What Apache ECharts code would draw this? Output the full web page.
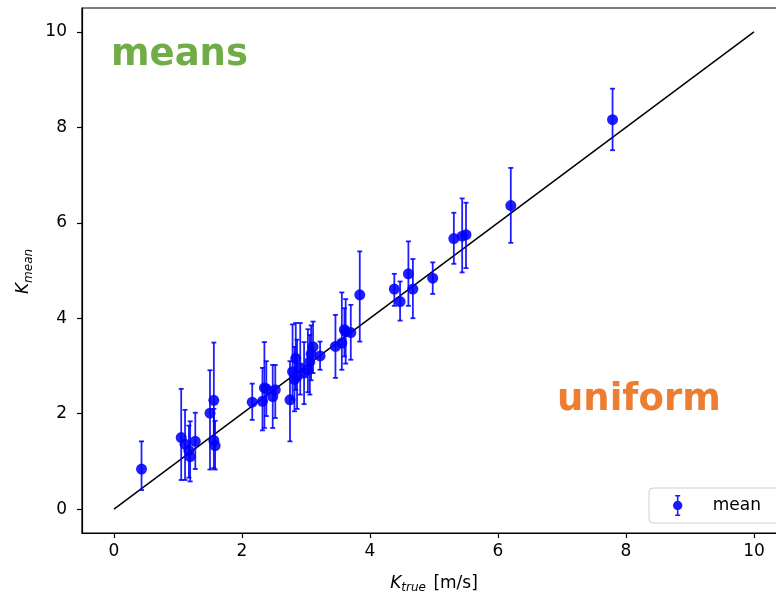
<!DOCTYPE html>
<html>
<head>
<meta charset="utf-8">
<script src="https://cdn.jsdelivr.net/npm/echarts@6/dist/echarts.min.js"></script>
<style>
  html, body { margin: 0; padding: 0; background: #fff; }
  #chart { width: 776px; height: 596px; }
</style>
</head>
<body>
<div id="chart"></div>
<script>
// True wind speed K_true [m/s] and the estimated mean with its spread
const kTrue = [0.43, 1.05, 1.11, 1.17, 1.19, 1.27, 1.50, 1.56, 1.56, 1.58,
               2.16, 2.32, 2.35, 2.38, 2.48, 2.52, 2.75, 2.79, 2.82, 2.84,
               2.86, 2.91, 2.97, 3.03, 3.06, 3.08, 3.11, 3.22, 3.46, 3.56,
               3.60, 3.62, 3.70, 3.84, 4.38, 4.47, 4.60, 4.67, 4.98, 5.31,
               5.44, 5.50, 6.20, 7.79];
const kMean = [0.84, 1.50, 1.36, 1.23, 1.10, 1.42, 2.01, 2.28, 1.44, 1.33,
               2.24, 2.26, 2.54, 2.52, 2.36, 2.50, 2.29, 2.88, 2.72, 3.16,
               2.78, 2.96, 2.85, 2.92, 3.09, 3.25, 3.40, 3.21, 3.41, 3.48,
               3.76, 3.72, 3.70, 4.49, 4.61, 4.35, 4.93, 4.61, 4.84, 5.67,
               5.72, 5.75, 6.36, 8.16];
const kLow  = [0.40, 0.61, 0.61, 0.66, 0.58, 0.84, 0.83, 1.40, 0.86, 0.83,
               1.87, 1.65, 1.70, 1.95, 1.70, 1.91, 1.42, 2.30, 2.05, 2.50,
               2.10, 2.40, 2.20, 2.45, 2.40, 2.70, 2.85, 2.92, 2.75, 2.92,
               3.20, 3.05, 3.13, 3.51, 4.26, 3.95, 4.26, 4.00, 4.51, 5.14,
               4.96, 5.05, 5.58, 7.52];
const kHigh = [1.42, 2.52, 2.08, 1.75, 1.84, 2.02, 2.91, 3.49, 2.10, 1.85,
               2.63, 2.96, 3.50, 3.10, 3.02, 3.02, 3.10, 3.87, 3.40, 3.90,
               3.55, 3.90, 3.50, 3.77, 3.65, 3.85, 3.93, 3.51, 4.07, 4.54,
               4.21, 4.40, 4.28, 5.40, 4.93, 4.77, 5.61, 5.24, 5.17, 6.21,
               6.51, 6.42, 7.15, 8.81];
// Reference line K_mean = K_true
const lineX = [0, 10];
const lineY = [0, 10];
const xTicks = [0, 2, 4, 6, 8, 10];
const yTicks = [0, 2, 4, 6, 8, 10];

const BLUE = 'rgba(0,0,255,0.88)';
const FONT = 'DejaVu Sans';
const FS = 17;

const chart = echarts.init(document.getElementById('chart'), null, { renderer: 'canvas' });

function errorBar(params, api) {
  const x = api.value(0);
  const top = api.coord([x, api.value(2)]);
  const bot = api.coord([x, api.value(1)]);
  const cap = 2.5;
  const st = { stroke: BLUE, lineWidth: 1.8 };
  return {
    type: 'group',
    children: [
      { type: 'line', shape: { x1: top[0], y1: top[1], x2: bot[0], y2: bot[1] }, style: st },
      { type: 'line', shape: { x1: top[0] - cap, y1: top[1], x2: top[0] + cap, y2: top[1] }, style: st },
      { type: 'line', shape: { x1: bot[0] - cap, y1: bot[1], x2: bot[0] + cap, y2: bot[1] }, style: st }
    ]
  };
}

// marker with a vertical error bar, used as the legend key
const legendIcon = 'path://M7.5,0 L12.5,0 L12.5,1.6 L10.8,1.6 L10.8,6 L9.2,6 L9.2,1.6 L7.5,1.6 Z ' +
  'M9.2,15 L10.8,15 L10.8,19.4 L12.5,19.4 L12.5,21 L7.5,21 L7.5,19.4 L9.2,19.4 Z ' +
  'M14.7,10.5 A4.7,4.7 0 1,1 5.3,10.5 A4.7,4.7 0 1,1 14.7,10.5 Z';

const axisCommon = {
  min: -0.5,
  max: 10.5,
  splitLine: { show: false },
  axisLine: { show: true, onZero: false, lineStyle: { color: '#000', width: 1.2 } },
  axisTick: { show: true, length: 5, lineStyle: { color: '#000', width: 1.2 } },
  axisLabel: { color: '#000', fontSize: FS, fontFamily: FONT }
};

const nameStyle = {
  color: '#000', fontSize: FS, fontFamily: FONT,
  rich: {
    k: { fontSize: FS, fontStyle: 'italic', fontFamily: FONT, color: '#000' },
    s: { fontSize: 12, fontStyle: 'italic', fontFamily: FONT, color: '#000', padding: [9, 2, 0, 0] }
  }
};

chart.setOption({
  animation: false,
  backgroundColor: '#fff',
  grid: {
    left: 82, top: 8, width: 704, height: 525,
    outerBoundsMode: 'none',
    containLabel: false,
    show: true, borderColor: '#000', borderWidth: 1.2, backgroundColor: 'transparent'
  },
  xAxis: Object.assign({}, axisCommon, {
    type: 'value',
    axisTick: Object.assign({}, axisCommon.axisTick, { customValues: xTicks }),
    axisLabel: Object.assign({}, axisCommon.axisLabel, { customValues: xTicks, margin: 10 }),
    name: '{k|K}{s|true} [m/s]',
    nameLocation: 'middle',
    nameGap: 40,
    nameTextStyle: nameStyle
  }),
  yAxis: Object.assign({}, axisCommon, {
    type: 'value',
    axisTick: Object.assign({}, axisCommon.axisTick, { customValues: yTicks }),
    axisLabel: Object.assign({}, axisCommon.axisLabel, { customValues: yTicks, margin: 15 }),
    name: '{k|K}{s|mean}',
    nameLocation: 'middle',
    nameGap: 44,
    nameTextStyle: nameStyle
  }),
  legend: {
    data: [{ name: 'mean', icon: legendIcon, itemStyle: { color: '#0000ff', opacity: 0.9 } }],
    left: 649, top: 488,
    orient: 'vertical',
    itemWidth: 44, itemHeight: 21,
    padding: [7, 30, 7, 24],
    borderColor: '#d0d0d0', borderWidth: 1, borderRadius: 4,
    backgroundColor: 'rgba(255,255,255,0.8)',
    textStyle: { color: '#000', fontSize: FS, fontFamily: FONT, padding: [0, 0, 0, 8] },
    selectedMode: false
  },
  series: [
    {
      type: 'line',
      data: lineX.map((x, i) => [x, lineY[i]]),
      showSymbol: false,
      lineStyle: { color: '#000', width: 1.5 },
      silent: true,
      z: 1
    },
    {
      type: 'custom',
      name: 'spread',
      renderItem: errorBar,
      data: kTrue.map((x, i) => [x, kLow[i], kHigh[i]]),
      encode: { x: 0, y: [1, 2] },
      z: 2
    },
    {
      type: 'scatter',
      name: 'mean',
      data: kTrue.map((x, i) => [x, kMean[i]]),
      symbolSize: 11,
      itemStyle: { color: BLUE, opacity: 1 },
      z: 3
    }
  ],
  graphic: [
    {
      type: 'text', left: 111, top: 37,
      style: { text: 'means', fill: '#70ad47', font: 'bold 37px "DejaVu Sans"' }
    },
    {
      type: 'text', left: 557, top: 382,
      style: { text: 'uniform', fill: '#ed7d31', font: 'bold 37px "DejaVu Sans"' }
    }
  ]
});
</script>
</body>
</html>
